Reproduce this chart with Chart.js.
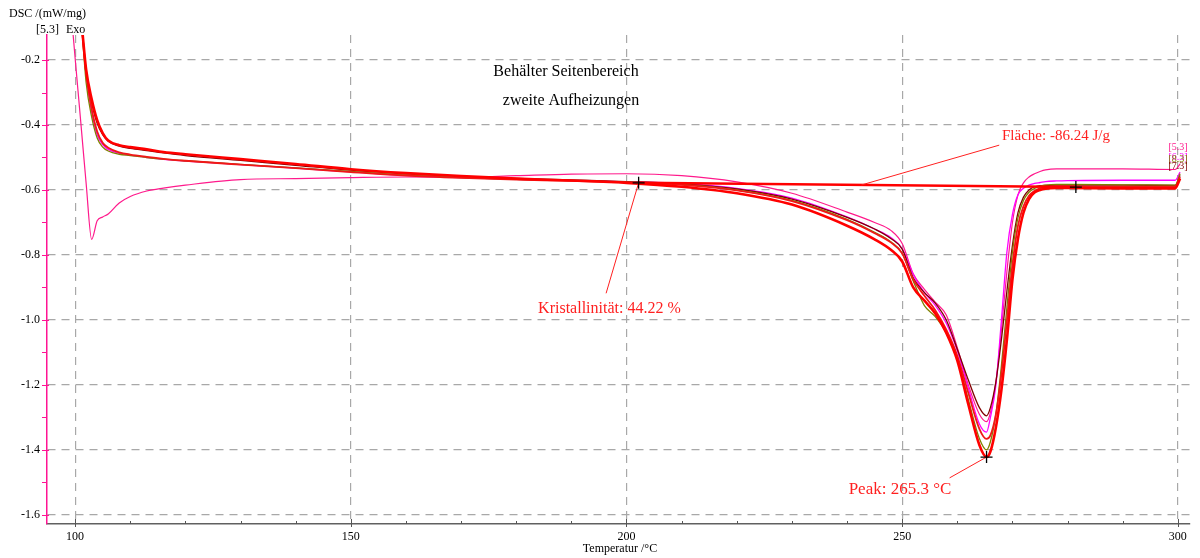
<!DOCTYPE html>
<html>
<head>
<meta charset="utf-8">
<script src="https://cdn.jsdelivr.net/npm/chart.js@4.4.0/dist/chart.umd.min.js"></script>
<style>
  html, body { margin: 0; padding: 0; background: #fff; }
  #wrap { width: 1200px; height: 558px; }
</style>
</head>
<body>
<div id="wrap"><canvas id="dsc" width="1200" height="558"></canvas></div>
<script>
// Stützstellen Temperatur (°C), gemeinsam für alle Aufheizkurven
const temps = [99.5, 100, 101, 101.3, 102, 103, 104, 105, 106, 108, 110, 113, 116, 120, 130, 140, 150, 160, 170, 180,
  190, 200, 210, 220, 230, 240, 245, 248, 250, 252, 254, 256, 258, 260, 262, 264, 265.3, 266, 267, 268,
  269, 270, 271, 272, 273, 274, 275, 276, 278, 280, 290, 299.5, 300.4];

// DSC-Signal (mW/mg) je Messung
const dscRot = [null, null, null, -0.11, -0.23, -0.32, -0.385, -0.425, -0.448, -0.462, -0.468, -0.475, -0.483, -0.49, -0.505, -0.52, -0.536, -0.548, -0.557, -0.565,
  -0.571, -0.578, -0.59, -0.61, -0.645, -0.71, -0.752, -0.785, -0.82, -0.9, -0.94, -0.98, -1.04, -1.125, -1.26, -1.385, -1.422, -1.405, -1.33, -1.215,
  -1.06, -0.875, -0.75, -0.67, -0.628, -0.608, -0.6, -0.596, -0.594, -0.594, -0.595, -0.595, -0.565];
const dscRot2 = [null, null, null, -0.115, -0.24, -0.35, -0.42, -0.455, -0.47, -0.484, -0.491, -0.498, -0.504, -0.51, -0.522, -0.533, -0.545, -0.556, -0.563, -0.568,
  -0.572, -0.577, -0.584, -0.601, -0.634, -0.693, -0.733, -0.762, -0.795, -0.875, -0.925, -0.97, -1.03, -1.11, -1.225, -1.335, -1.366, -1.355, -1.29, -1.165,
  -1.0, -0.83, -0.71, -0.65, -0.618, -0.603, -0.595, -0.591, -0.589, -0.589, -0.59, -0.59, -0.56];
const dscOliv = [null, null, null, -0.12, -0.27, -0.375, -0.44, -0.468, -0.48, -0.49, -0.494, -0.5, -0.505, -0.51, -0.521, -0.532, -0.543, -0.554, -0.562, -0.567,
  -0.571, -0.576, -0.583, -0.6, -0.632, -0.69, -0.73, -0.76, -0.795, -0.88, -0.955, -0.99, -1.04, -1.12, -1.245, -1.365, -1.4, -1.375, -1.29, -1.14,
  -0.96, -0.79, -0.685, -0.632, -0.607, -0.595, -0.588, -0.585, -0.583, -0.583, -0.584, -0.585, -0.55];
const dscMagenta = [null, null, null, -0.11, -0.25, -0.36, -0.43, -0.46, -0.475, -0.487, -0.493, -0.5, -0.506, -0.511, -0.522, -0.533, -0.544, -0.555, -0.562, -0.567,
  -0.571, -0.575, -0.58, -0.595, -0.625, -0.683, -0.72, -0.747, -0.78, -0.86, -0.915, -0.955, -1.01, -1.095, -1.21, -1.32, -1.345, -1.3, -1.2, -1.0,
  -0.79, -0.675, -0.615, -0.595, -0.585, -0.58, -0.577, -0.574, -0.572, -0.571, -0.57, -0.57, -0.545];
const dscBraun = [null, null, null, -0.11, -0.235, -0.33, -0.395, -0.43, -0.45, -0.465, -0.472, -0.479, -0.486, -0.494, -0.509, -0.524, -0.539, -0.55, -0.558, -0.564,
  -0.569, -0.574, -0.581, -0.597, -0.628, -0.684, -0.72, -0.75, -0.782, -0.87, -0.915, -0.948, -1.0, -1.09, -1.185, -1.27, -1.295, -1.27, -1.19, -1.06,
  -0.91, -0.77, -0.67, -0.622, -0.6, -0.59, -0.587, -0.586, -0.585, -0.585, -0.585, -0.586, -0.555];
const dscPink = [-0.095, -0.194, -0.386, -0.445, -0.58, -0.752, -0.695, -0.683, -0.674, -0.64, -0.62, -0.603, -0.594, -0.585, -0.568, -0.565, -0.562, -0.56, -0.561, -0.556,
  -0.551, -0.55, -0.556, -0.575, -0.61, -0.668, -0.7, -0.725, -0.765, -0.858, -0.905, -0.945, -0.985, -1.085, -1.2, -1.29, -1.313, -1.285, -1.19, -1.03,
  -0.85, -0.7, -0.615, -0.578, -0.56, -0.55, -0.543, -0.538, -0.535, -0.535, -0.535, -0.537, -0.52];

// Auswertung: Basislinie, Kristallinität, Peak
const basisT = [202.2, 281.5];
const basisDSC = [-0.578, -0.591];
const peakT = 265.3;
const peakDSC = -1.422;

const xTicks = [100, 150, 200, 250, 300];
const yTicks = [-0.2, -0.4, -0.6, -0.8, -1.0, -1.2, -1.4, -1.6];

const SERIF = '"Liberation Serif", "Times New Roman", serif';

function punkte(werte) {
  return temps.map((t, i) => ({ x: t, y: werte[i] }));
}

function kurve(werte, farbe, breite) {
  return {
    data: punkte(werte),
    borderColor: farbe,
    borderWidth: breite,
    pointRadius: 0,
    cubicInterpolationMode: 'monotone',
    fill: false
  };
}

function basisWert(t) {
  return basisDSC[0] + (t - basisT[0]) / (basisT[1] - basisT[0]) * (basisDSC[1] - basisDSC[0]);
}

// Hinweislinien: vom Auswertepunkt zur Beschriftung
const hinweise = [
  { von: [242.6, basisWert(242.6)], nach: [267.6, -0.462] },
  { von: [basisT[0], basisDSC[0]], nach: [196.3, -0.918] },
  { von: [peakT, peakDSC], nach: [258.6, -1.486] }
];

const datasets = [
  {
    data: [
      { x: basisT[0], y: basisDSC[0] },
      { x: peakT, y: peakDSC },
      { x: basisT[1], y: basisDSC[1] }
    ],
    showLine: false,
    pointStyle: 'cross',
    pointRadius: 6,
    borderColor: '#000',
    borderWidth: 1.3
  },
  ...hinweise.map(h => ({
    data: [{ x: h.von[0], y: h.von[1] }, { x: h.nach[0], y: h.nach[1] }],
    borderColor: '#ff2020',
    borderWidth: 1,
    pointRadius: 0
  })),
  {
    data: basisT.map((t, i) => ({ x: t, y: basisDSC[i] })),
    borderColor: '#ff0000',
    borderWidth: 2.5,
    pointRadius: 0
  },
  kurve(dscRot, '#ff0000', 2.6),
  kurve(dscRot2, '#f01818', 1.8),
  kurve(dscOliv, '#808000', 1.3),
  kurve(dscBraun, '#800000', 1.3),
  kurve(dscMagenta, '#ff00ff', 1.3),
  kurve(dscPink, '#ff1a8c', 1.2)
];

// Teilstriche, Achsentitel und Texte
const beschriftung = {
  id: 'beschriftung',
  afterDatasetsDraw(chart) {
    const { ctx, chartArea: a, scales: { x, y } } = chart;
    ctx.save();

    ctx.lineWidth = 1;
    ctx.strokeStyle = '#ff1493';
    for (let i = Math.ceil(y.min * 10); i <= Math.floor(y.max * 10); i++) {
      const py = Math.round(y.getPixelForValue(i / 10)) + 0.5;
      const haupt = i % 2 === 0;
      ctx.beginPath();
      ctx.moveTo(a.left - 5, py);
      ctx.lineTo(a.left + (haupt ? 2 : 0), py);
      ctx.stroke();
    }

    ctx.strokeStyle = '#555';
    for (let t = 100; t <= x.max; t += 10) {
      const px = Math.round(x.getPixelForValue(t)) + 0.5;
      const haupt = t % 50 === 0;
      ctx.beginPath();
      ctx.moveTo(px, a.bottom - (haupt ? 5 : 3));
      ctx.lineTo(px, a.bottom + (haupt ? 3 : 0));
      ctx.stroke();
    }

    ctx.fillStyle = '#000';
    ctx.textBaseline = 'middle';
    ctx.font = '12px ' + SERIF;
    ctx.textAlign = 'left';
    ctx.fillText('DSC /(mW/mg)', 9, 14);
    ctx.fillText('[5.3]', 36, 30);
    ctx.fillText('Exo', 66, 30);
    ctx.textAlign = 'center';
    ctx.fillText('Temperatur /°C', 620, 549);

    ctx.font = '16px ' + SERIF;
    ctx.fillText('Behälter Seitenbereich', 566, 72);
    ctx.fillText('zweite Aufheizungen', 571, 101);

    ctx.fillStyle = '#ff2020';
    ctx.font = '15px ' + SERIF;
    ctx.textAlign = 'left';
    ctx.fillText('Fläche: -86.24 J/g', x.getPixelForValue(268.1), y.getPixelForValue(-0.434));
    ctx.font = '16px ' + SERIF;
    ctx.textAlign = 'center';
    ctx.fillText('Kristallinität: 44.22 %', x.getPixelForValue(196.9), y.getPixelForValue(-0.966));
    ctx.font = '17px ' + SERIF;
    ctx.fillText('Peak: 265.3 °C', x.getPixelForValue(249.6), y.getPixelForValue(-1.523));

    // Kennungen der Messungen am Kurvenende
    ctx.font = '10px ' + SERIF;
    const kennungen = [
      ['[5.3]', '#ff1a8c', 147],
      ['[6.3]', '#ff00ff', 157],
      ['[8.3]', '#808000', 159],
      ['[7.3]', '#800000', 166]
    ];
    kennungen.forEach(([txt, farbe, py]) => {
      ctx.fillStyle = farbe;
      ctx.fillText(txt, 1178, py);
    });

    ctx.restore();
  }
};

new Chart(document.getElementById('dsc'), {
  type: 'line',
  data: { datasets: datasets },
  options: {
    responsive: false,
    animation: false,
    events: [],
    layout: { padding: { top: 35, right: 10, left: 0, bottom: 0 } },
    plugins: { legend: { display: false }, tooltip: { enabled: false } },
    scales: {
      x: {
        type: 'linear',
        min: 94.9,
        max: 302.2,
        afterBuildTicks: s => { s.ticks = xTicks.map(v => ({ value: v })); },
        afterFit: s => { s.height = 34; },
        grid: { color: '#a8a8a8', lineWidth: 1.2, drawTicks: false },
        border: { display: true, color: '#606060', width: 1.5, dash: [8, 6] },
        ticks: {
          padding: 6,
          color: '#000',
          maxRotation: 0,
          autoSkip: false,
          font: { family: SERIF, size: 12 }
        }
      },
      y: {
        min: -1.628,
        max: -0.123,
        afterBuildTicks: s => { s.ticks = yTicks.map(v => ({ value: v })); },
        afterFit: s => { s.width = 47; },
        grid: { color: '#a8a8a8', lineWidth: 1.2, drawTicks: false },
        border: { display: true, color: '#ff1493', width: 1.5, dash: [8, 6] },
        ticks: {
          padding: 7,
          color: '#000',
          font: { family: SERIF, size: 12 },
          callback: v => v.toFixed(1)
        }
      }
    }
  },
  plugins: [beschriftung]
});
</script>
</body>
</html>
